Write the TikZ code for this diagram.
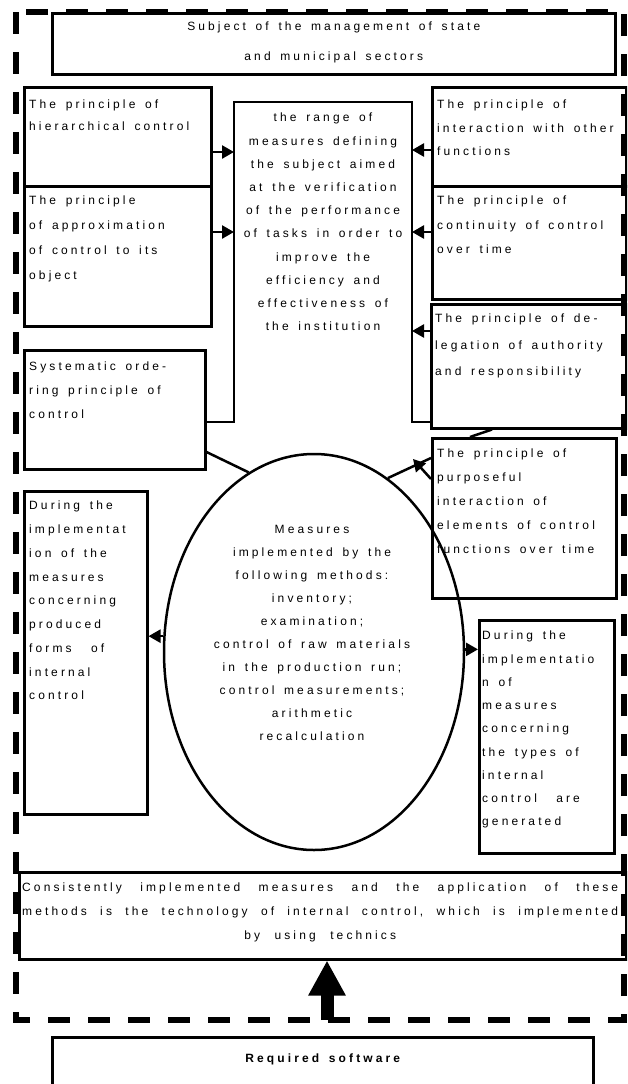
\documentclass[tikz,border=0pt]{standalone}
\usepackage{fontspec}
\setmainfont{Liberation Sans}
\newfontfamily\spaced{Liberation Sans}[LetterSpace=26, WordSpace=2.0]
\newfontfamily\tight{Liberation Sans}[LetterSpace=26, WordSpace=1.5]
\usetikzlibrary{arrows.meta}
\usetikzlibrary{positioning}
\usetikzlibrary{shapes.geometric}
\tikzset {
  box path/.style = {
    draw = black,
    line width = 2.5pt
  },
  % path style with an arrow at the end
  arr/.style = {
    box path,
    -{Triangle[length = 12pt, width = 13pt]}
  },
  % path style with no arrows
  narr/.style = {
    box path
  },
  big arr/.style = {
    draw = black,
    line width = 13pt,
    -{Triangle[length = 35pt, width = 35pt]}
  },
  % dashed outer frame
  frame/.style = {
    draw = black,
    line width = 5.5pt,
    dash pattern = on 22pt off 18pt
  }
}
\tikzset {
  % box, its text is placed by hand
  pbox/.style = {
    box path,
    rectangle,
    anchor = north west,
    inner sep = 0
  },
  ell/.style = {
    box path,
    ellipse,
    inner sep = 0
  },
  % left aligned text
  ptext/.style = {
    anchor = north west,
    align = left,
    inner sep = 0,
    font = \spaced\fontsize{12}{#1}\selectfont
  },
  ptext/.default = 23.5,
  % centred text
  ctext/.style = {
    ptext = #1,
    anchor = north,
    align = center
  },
  ctext/.default = 23.5
}

\begin{document}
\begin{tikzpicture}[x=1pt, y=-1pt]
    \clip (0,0) rectangle (627,1084);
    \draw[frame] (16,12) rectangle (624,1020);

    \node[pbox, minimum width=563, minimum height=61] at (51, 12) (subj) {};
    \node[ctext=30] at ([shift={(0,10)}]subj.north) (subj-t)
    {Subject of the management of state\\and municipal sectors};

    \node[pbox, minimum width=187, minimum height=99] at (23, 86) (hier) {};
    \node[ptext=22] at ([shift={(6,14)}]hier.north west) (hier-t)
    {The principle of\\hierarchical control};
    \node[pbox, minimum width=187, minimum height=140] at (23, 185) (approx) {};
    \node[ptext=25] at ([shift={(6,11)}]approx.north west) (approx-t)
    {The principle\\of approximation\\of control to its\\object};
    \node[pbox, minimum width=181, minimum height=119] at (23, 349) (sys) {};
    \node[ptext=24] at ([shift={(6,13)}]sys.north west) (sys-t)
    {Systematic orde-\\ring principle of\\control};
    \node[pbox, minimum width=123, minimum height=323] at (23, 490) (durl) {};
    \node[ptext=23.75] at ([shift={(6,11)}]durl.north west) (durl-t)
    {During the\\implementat\\ion of the\\measures\\concerning\\produced\\forms \ of\\internal\\control};

    \node[pbox, minimum width=194, minimum height=99] at (431, 86) (inter) {};
    \node[ptext] at ([shift={(6,14)}]inter.north west) (inter-t)
    {The principle of\\interaction with other\\functions};
    \node[pbox, minimum width=194, minimum height=113] at (431, 185) (cont) {};
    \node[ptext=24.5] at ([shift={(6,11)}]cont.north west) (cont-t)
    {The principle of\\continuity of control\\over time};
    \node[pbox, minimum width=195, minimum height=124] at (430, 303) (deleg) {};
    \node[ptext=26.5] at ([shift={(5,11)}]deleg.north west) (deleg-t)
    {The principle of de-\\legation of authority\\and responsibility};
    \node[pbox, minimum width=184, minimum height=160] at (431, 437) (purp) {};
    \node[ptext=24] at ([shift={(6,12)}]purp.north west) (purp-t)
    {The principle of\\purposeful\\interaction of\\elements of control\\functions over time};
    \node[pbox, minimum width=135, minimum height=233] at (478, 619) (durr) {};
    \node[ptext=23.25] at ([shift={(4,12)}]durr.north west) (durr-t)
    {During the\\implementatio\\n of\\measures\\concerning\\the types of\\internal\\control \ are\\generated};

    % centre box, open at the bottom
    \coordinate (range-nw) at (234, 102);
    \coordinate (range-se) at (412, 422);
    \draw[narr] (sys.east |- range-se) -- (range-nw |- range-se)
    -- (range-nw) -- (range-se |- range-nw)
    -- (range-se) -- (deleg.west |- range-se);
    \node[ctext=23.2] at (323, 113) (range-t)
    {the range of\\measures defining\\the subject aimed\\at the verification\\of the performance\\of tasks in order to\\improve the\\efficiency and\\effectiveness of\\the institution};

    \node[ell, minimum width=300, minimum height=396] at (314, 652) (meas) {};
    \node[ctext=23] at (312, 525) (meas-t)
    {Measures\\implemented by the\\following methods:\\inventory;\\examination;\\control of raw materials\\in the production run;\\control measurements;\\arithmetic\\recalculation};

    \node[pbox, minimum width=607, minimum height=87] at (18, 871) (consist) {};
    \node[ptext=24, font=\tight\fontsize{12}{24}\selectfont] at ([shift={(4,12)}]consist.north west) (consist-t)
    {\makebox[596pt][s]{Consistently implemented measures and the application of these}\\
     \makebox[596pt][s]{methods is the technology of internal control, which is implemented}\\
     \makebox[596pt]{by using technics}};

    \node[pbox, minimum width=541, minimum height=70] at (51, 1036) (soft) {};
    \node[ctext] at ([shift={(0,18)}]soft.north) (soft-t) {\bfseries Required software};

    \draw[arr] (hier.east |- 0,152) -- (range-nw |- 0,152);
    \draw[arr] (approx.east |- 0,232) -- (range-nw |- 0,232);
    \draw[arr] (inter.west |- 0,150) -- (range-se |- 0,150);
    \draw[arr] (cont.west |- 0,232) -- (range-se |- 0,232);
    \draw[arr] (deleg.west |- 0,331) -- (range-se |- 0,331);

    \draw[narr] (sys.east |- 0,452) -- (meas.110);
    \draw[narr] (deleg.south -| 492,0) -- (purp.north -| 470,0);
    \draw[narr] (meas.67) -- (purp.west |- 0,458);
    \coordinate (purp-tip) at (413, 459);
    \draw[arr] (purp.west |- 0,479) -- (purp-tip);
    \draw[arr] (meas.174) -- (durl.east |- meas.174);
    \draw[arr] (meas.1) -- (durr.west |- meas.1);

    \coordinate (frame-s) at (327, 1020);
    \draw[big arr] (frame-s) -- (consist.south -| frame-s);
\end{tikzpicture}
\end{document}
